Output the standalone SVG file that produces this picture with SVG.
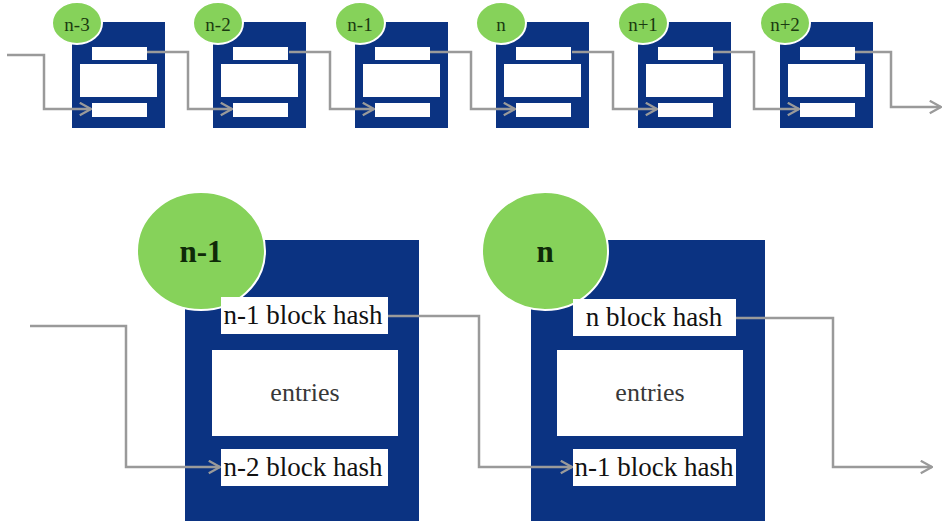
<svg xmlns="http://www.w3.org/2000/svg" width="945" height="521" viewBox="0 0 945 521">
  <style>
    .blk { fill: #0b3382; }
    .slot { fill: #ffffff; }
    .badge { fill: #86d25a; stroke: #ffffff; stroke-width: 2; }
    text { font-family: 'Liberation Serif', 'Times New Roman', serif; text-anchor: middle; }
    .lblS { font-size: 19px; fill: #1a3a10; }
    .lblL { font-size: 31px; font-weight: bold; fill: #0f2a08; }
    .hash { font-size: 27px; fill: #111111; }
    .ent { font-size: 26px; fill: #383838; }
    .link { fill: none; stroke: #9a9a9a; stroke-width: 2.5; marker-end: url(#chev); }
  </style>
  <defs>
    <marker id="chev" viewBox="0 0 12 12" refX="11" refY="6" markerWidth="6" markerHeight="6" markerUnits="strokeWidth" orient="auto">
      <path d="M2,1 L11,6 L2,11" fill="none" stroke="#9a9a9a" stroke-width="1.8"/>
    </marker>
    <g id="mini">
      <rect class="blk" x="0" y="0" width="93" height="106"/>
      <rect class="slot" x="20" y="25" width="55" height="13"/>
      <rect class="slot" x="8" y="42" width="77" height="33"/>
      <rect class="slot" x="20" y="81" width="55" height="14"/>
    </g>
  </defs>
  <rect width="945" height="521" fill="#ffffff"/>

  <!-- chain of small blocks -->
  <g id="block-n-3">
    <use href="#mini" x="72" y="22"/>
    <ellipse class="badge" cx="77" cy="23" rx="25" ry="21"/>
    <text class="lblS" x="77" y="31">n-3</text>
  </g>
  <g id="block-n-2">
    <use href="#mini" x="213" y="22"/>
    <ellipse class="badge" cx="218" cy="23" rx="25" ry="21"/>
    <text class="lblS" x="218" y="31">n-2</text>
  </g>
  <g id="block-n-1">
    <use href="#mini" x="355" y="22"/>
    <ellipse class="badge" cx="360" cy="23" rx="25" ry="21"/>
    <text class="lblS" x="360" y="31">n-1</text>
  </g>
  <g id="block-n">
    <use href="#mini" x="496" y="22"/>
    <ellipse class="badge" cx="501" cy="23" rx="25" ry="21"/>
    <text class="lblS" x="501" y="31">n</text>
  </g>
  <g id="block-n+1">
    <use href="#mini" x="638" y="22"/>
    <ellipse class="badge" cx="643" cy="23" rx="25" ry="21"/>
    <text class="lblS" x="643" y="31">n+1</text>
  </g>
  <g id="block-n+2">
    <use href="#mini" x="780" y="22"/>
    <ellipse class="badge" cx="785" cy="23" rx="25" ry="21"/>
    <text class="lblS" x="785" y="31">n+2</text>
  </g>

  <!-- enlarged blocks -->
  <g id="detail-n-1">
    <rect class="blk" x="185" y="240" width="234" height="285"/>
    <ellipse class="badge" cx="201" cy="251" rx="64" ry="59"/>
    <text class="lblL" x="201" y="262">n-1</text>
    <rect class="slot" x="221" y="297" width="167" height="37"/>
    <text class="hash" x="303" y="324">n-1 block hash</text>
    <rect class="slot" x="212" y="350" width="186" height="86"/>
    <text class="ent" x="305" y="401">entries</text>
    <rect class="slot" x="221" y="449" width="167" height="37"/>
    <text class="hash" x="303" y="476">n-2 block hash</text>
  </g>
  <g id="detail-n">
    <rect class="blk" x="531" y="240" width="234" height="285"/>
    <ellipse class="badge" cx="545" cy="251" rx="63" ry="59"/>
    <text class="lblL" x="545" y="262">n</text>
    <rect class="slot" x="573" y="299" width="163" height="37"/>
    <text class="hash" x="654" y="326">n block hash</text>
    <rect class="slot" x="557" y="350" width="186" height="86"/>
    <text class="ent" x="650" y="401">entries</text>
    <rect class="slot" x="573" y="449" width="163" height="37"/>
    <text class="hash" x="654" y="476">n-1 block hash</text>
  </g>

  <!-- hash links, drawn over the blocks -->
  <g id="connectors">
    <path class="link" d="M7,55 H44 V109 H91"/>
    <path class="link" d="M147,52 H188 V109 H232"/>
    <path class="link" d="M289,52 H330 V109 H374"/>
    <path class="link" d="M430,52 H471 V109 H515"/>
    <path class="link" d="M572,52 H613 V109 H657"/>
    <path class="link" d="M713,52 H754 V109 H799"/>
    <path class="link" d="M855,52 H891 V107 H941"/>
    <path class="link" d="M30,326 H126 V467 H220"/>
    <path class="link" d="M388,316 H479 V467 H572"/>
    <path class="link" d="M736,318 H833 V467 H932"/>
  </g>
</svg>
